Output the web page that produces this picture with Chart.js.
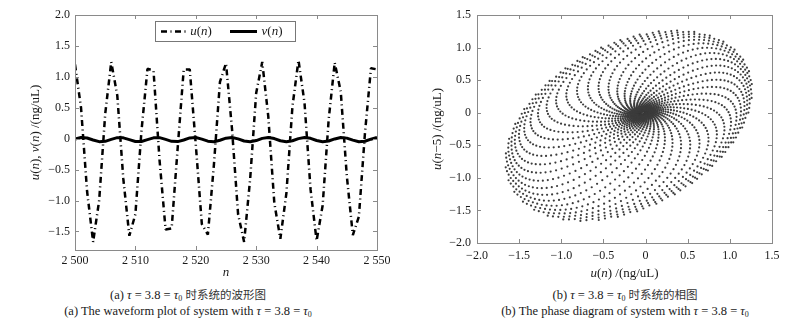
<!DOCTYPE html>
<html>
<head>
<meta charset="utf-8">
<script src="https://cdn.jsdelivr.net/npm/chart.js@4.4.0/dist/chart.umd.min.js"></script>
<style>
  body { margin: 0; background: #fff; }
  #wrap { position: relative; width: 799px; height: 325px; overflow: hidden; }
  canvas { position: absolute; top: 0; }
  .cap {
    position: absolute; width: 400px; text-align: center; color: #1a1a1a;
    font: 12.5px 'Liberation Serif', 'Noto Sans CJK SC', serif; white-space: nowrap;
  }
  .cap i { font-style: italic; }
  .cap sub { font-size: 8px; vertical-align: -2px; }
  .zh { font-family: 'Noto Sans CJK SC', sans-serif; font-size: 11.5px; color: #333; }
</style>
</head>
<body>
<div id="wrap">
  <canvas id="wave" width="400" height="285" style="left:0"></canvas>
  <canvas id="phase" width="399" height="285" style="left:400px"></canvas>
  <div class="cap" style="left:-12px; top:286px">(a) <i>τ</i> = 3.8 = <i>τ</i><sub>0</sub> <span class="zh">时系统的波形图</span></div>
  <div class="cap" style="left:-12px; top:304px">(a) The waveform plot of system with <i>τ</i> = 3.8 = <i>τ</i><sub>0</sub></div>
  <div class="cap" style="left:425px; top:286px">(b) <i>τ</i> = 3.8 = <i>τ</i><sub>0</sub> <span class="zh">时系统的相图</span></div>
  <div class="cap" style="left:425px; top:304px">(b) The phase diagram of system with <i>τ</i> = 3.8 = <i>τ</i><sub>0</sub></div>
</div>
<script>
// waveform, n = 2500 ... 2550
const nStart = 2500;
const uValues = [1.20, 0.50, -0.85, -1.67, -1.00, 0.40, 1.24, 0.70, -0.65, -1.57,
  -1.22, 0.12, 1.13, 1.10, -0.35, -1.47, -1.45, -0.15, 1.12, 1.12,
  -0.10, -1.38, -1.55, -0.42, 0.92, 1.22, 0.15, -1.22, -1.67, -0.65,
  0.74, 1.24, 0.36, -1.04, -1.62, -0.88, 0.52, 1.27, 0.58, -0.82,
  -1.65, -1.08, 0.31, 1.23, 0.76, -0.60, -1.56, -1.26, 0.08, 1.14, 1.12];
const vValues = [-0.007, 0.018, 0.011, -0.021, -0.048, -0.043, -0.011, 0.017, 0.014, -0.016,
  -0.046, -0.045, -0.016, 0.014, 0.017, -0.012, -0.043, -0.047, -0.021, 0.012,
  0.018, -0.007, -0.040, -0.049, -0.025, 0.008, 0.019, -0.003, -0.037, -0.050,
  -0.030, 0.005, 0.020, 0.002, -0.033, -0.050, -0.034, 0.001, 0.020, 0.006,
  -0.029, -0.050, -0.037, -0.004, 0.019, 0.009, -0.024, -0.049, -0.041, -0.008, 0.018];

const waveXTicks = [2500, 2510, 2520, 2530, 2540, 2550];
const waveXLabels = ['2 500', '2 510', '2 520', '2 530', '2 540', '2 550'];
const waveYTicks = [-1.5, -1.0, -0.5, 0, 0.5, 1.0, 1.5, 2.0];
const waveYLabels = ['\u22121.5', '\u22121.0', '\u22120.5', '0', '0.5', '1.0', '1.5', '2.0'];

// phase portrait u(n) vs u(n-5): the transient leaves the fixed point in rings
// that widen towards the limit cycle; dots of successive rings line up into arms
const phaseRings = [0.020, 0.023, 0.026, 0.029, 0.033, 0.037, 0.042, 0.047, 0.053, 0.060,
  0.067, 0.075, 0.084, 0.094, 0.105, 0.118, 0.132, 0.147, 0.164, 0.183,
  0.204, 0.227, 0.252, 0.279, 0.308, 0.339, 0.372, 0.406, 0.441, 0.477,
  0.513, 0.549, 0.585, 0.620, 0.654, 0.687, 0.718, 0.747, 0.774, 0.799,
  0.822, 0.843, 0.862, 0.879, 0.894, 0.908, 0.920, 0.931, 0.941, 0.950,
  0.958, 0.967, 0.976, 0.984, 0.991, 0.997];
// arm rotation per ring, degrees (clockwise going outwards)
const phaseTwist = [0, -3, -6, -9, -12, -15, -18, -21, -24, -27,
  -30, -33, -36, -39, -42, -45, -48, -51, -54, -57,
  -60, -63, -66, -69, -72, -75, -78, -81, -84, -87,
  -90, -93, -96, -99, -102, -105, -108, -111, -114, -117,
  -120, -123, -126, -129, -132, -135, -138, -141, -144, -147,
  -150, -153, -156, -159, -162, -165];
const armCount = 40;
const fixedPoint = [-0.03, 0.0];
const cycleCentre = [-0.2, -0.2];
const cycleAxes = [1.72, 1.16];

const phaseTicks = [-2.0, -1.5, -1.0, -0.5, 0, 0.5, 1.0, 1.5];
const phaseLabels = ['\u22122.0', '\u22121.5', '\u22121.0', '\u22120.5', '0', '0.5', '1.0', '1.5'];

const waveYTitle = [['u', 1], ['(', 0], ['n', 1], ['), ', 0], ['v', 1], ['(', 0], ['n', 1], [') /(ng/uL)', 0]];
const waveXTitle = [['n', 1]];
const phaseYTitle = [['u', 1], ['(', 0], ['n', 1], ['\u22125) /(ng/uL)', 0]];
const phaseXTitle = [['u', 1], ['(', 0], ['n', 1], [') /(ng/uL)', 0]];

const serif = "'Liberation Serif', 'Times New Roman', serif";
const ink = '#1a1a1a';
const frameColor = '#8a8a8a';

// mixed upright / italic text centred on (x, y)
function richText(ctx, parts, x, y, size, rotate) {
  ctx.save();
  ctx.translate(x, y);
  if (rotate) ctx.rotate(-Math.PI / 2);
  ctx.textBaseline = 'middle';
  ctx.fillStyle = ink;
  const fontOf = it => (it ? 'italic ' : '') + size + 'px ' + serif;
  let total = 0;
  parts.forEach(p => { ctx.font = fontOf(p[1]); total += ctx.measureText(p[0]).width; });
  let cx = -total / 2;
  parts.forEach(p => {
    ctx.font = fontOf(p[1]);
    ctx.fillText(p[0], cx, 0);
    cx += ctx.measureText(p[0]).width;
  });
  ctx.restore();
}

// box round the plot with short inward ticks on all four sides, plus axis titles
function framePlugin(xTitle, yTitle, yTitleX, xTitleY) {
  return {
    id: 'frame',
    afterDatasetsDraw(chart) {
      const { ctx, chartArea: a, scales } = chart;
      const len = 4;
      ctx.save();
      ctx.strokeStyle = frameColor;
      ctx.lineWidth = 1;
      ctx.setLineDash([]);
      ctx.beginPath();
      scales.x.ticks.forEach(t => {
        const px = Math.round(scales.x.getPixelForValue(t.value)) + 0.5;
        ctx.moveTo(px, a.bottom); ctx.lineTo(px, a.bottom - len);
        ctx.moveTo(px, a.top); ctx.lineTo(px, a.top + len);
      });
      scales.y.ticks.forEach(t => {
        const py = Math.round(scales.y.getPixelForValue(t.value)) + 0.5;
        ctx.moveTo(a.left, py); ctx.lineTo(a.left + len, py);
        ctx.moveTo(a.right, py); ctx.lineTo(a.right - len, py);
      });
      ctx.stroke();
      ctx.strokeRect(a.left + 0.5, a.top + 0.5, a.right - a.left, a.bottom - a.top);
      ctx.restore();
      richText(ctx, xTitle, (a.left + a.right) / 2, xTitleY, 13, false);
      richText(ctx, yTitle, yTitleX, (a.top + a.bottom) / 2, 13, true);
    }
  };
}

// legend box with the line samples
const legendPlugin = {
  id: 'waveLegend',
  afterDraw(chart) {
    const ctx = chart.ctx;
    const sets = chart.data.datasets;
    ctx.save();
    ctx.fillStyle = '#fff';
    ctx.fillRect(155, 21, 140, 20);
    ctx.strokeStyle = '#777';
    ctx.lineWidth = 1;
    ctx.strokeRect(155.5, 21.5, 140, 20);
    const y = 31.5;
    ctx.strokeStyle = '#000';
    ctx.lineWidth = sets[0].borderWidth;
    ctx.setLineDash(sets[0].borderDash);
    ctx.beginPath(); ctx.moveTo(161, y); ctx.lineTo(186, y); ctx.stroke();
    ctx.lineWidth = sets[1].borderWidth;
    ctx.setLineDash([]);
    ctx.beginPath(); ctx.moveTo(230, y); ctx.lineTo(257, y); ctx.stroke();
    ctx.restore();
    richText(ctx, [['u', 1], ['(', 0], ['n', 1], [')', 0]], 201, y, 13, false);
    richText(ctx, [['v', 1], ['(', 0], ['n', 1], [')', 0]], 272, y, 13, false);
  }
};

function tickFont() {
  return { family: serif, size: 12 };
}

const wavePoints = vals => vals.map((v, i) => ({ x: nStart + i, y: v }));

new Chart(document.getElementById('wave'), {
  type: 'line',
  data: {
    datasets: [
      { label: 'u(n)', data: wavePoints(uValues), borderColor: '#000', borderWidth: 2.5,
        borderDash: [6, 3.5, 1, 3.5], borderJoinStyle: 'bevel', pointRadius: 0, tension: 0 },
      { label: 'v(n)', data: wavePoints(vValues), borderColor: '#000', borderWidth: 3,
        borderJoinStyle: 'round', pointRadius: 0, tension: 0 }
    ]
  },
  options: {
    responsive: false,
    animation: false,
    layout: { padding: { top: 15, right: 23, left: 0, bottom: 0 } },
    plugins: { legend: { display: false }, tooltip: { enabled: false } },
    scales: {
      x: {
        type: 'linear', min: 2500, max: 2550,
        afterBuildTicks: s => { s.ticks = waveXTicks.map(v => ({ value: v })); },
        afterFit: s => { s.height = 35; },
        grid: { display: false, drawTicks: false }, border: { display: false },
        ticks: { font: tickFont(), color: ink, padding: 4, maxRotation: 0,
          callback: (v, i) => waveXLabels[i] }
      },
      y: {
        min: -1.8, max: 2.0,
        afterBuildTicks: s => { s.ticks = waveYTicks.map(v => ({ value: v })); },
        afterFit: s => { s.width = 75; },
        grid: { display: false, drawTicks: false }, border: { display: false },
        ticks: { font: tickFont(), color: ink, padding: 5,
          callback: (v, i) => waveYLabels[i] }
      }
    }
  },
  plugins: [framePlugin(waveXTitle, waveYTitle, 36, 273), legendPlugin]
});

// lay the rings out on ellipses that drift from the fixed point to the cycle centre
const phasePoints = [];
phaseRings.forEach((s, i) => {
  const cx = fixedPoint[0] + (cycleCentre[0] - fixedPoint[0]) * s;
  const cy = fixedPoint[1] + (cycleCentre[1] - fixedPoint[1]) * s;
  const tilt = (20 + 25 * s) * Math.PI / 180;
  for (let j = 0; j < armCount; j++) {
    const th = 2 * Math.PI * j / armCount + phaseTwist[i] * Math.PI / 180;
    const ex = cycleAxes[0] * s * Math.cos(th);
    const ey = cycleAxes[1] * s * Math.sin(th);
    phasePoints.push({
      x: cx + ex * Math.cos(tilt) - ey * Math.sin(tilt),
      y: cy + ex * Math.sin(tilt) + ey * Math.cos(tilt)
    });
  }
});

new Chart(document.getElementById('phase'), {
  type: 'scatter',
  data: {
    datasets: [{ label: 'u(n-5)', data: phasePoints, pointRadius: 1.1, borderWidth: 0,
      pointBackgroundColor: '#3c3c3c', pointBorderWidth: 0 }]
  },
  options: {
    responsive: false,
    animation: false,
    layout: { padding: { top: 15, right: 27, left: 0, bottom: 0 } },
    plugins: { legend: { display: false }, tooltip: { enabled: false } },
    scales: {
      x: {
        type: 'linear', min: -2.0, max: 1.5,
        afterBuildTicks: s => { s.ticks = phaseTicks.map(v => ({ value: v })); },
        afterFit: s => { s.height = 42; },
        grid: { display: false, drawTicks: false }, border: { display: false },
        ticks: { font: tickFont(), color: ink, padding: 6, maxRotation: 0,
          callback: (v, i) => phaseLabels[i] }
      },
      y: {
        min: -2.0, max: 1.5,
        afterBuildTicks: s => { s.ticks = phaseTicks.map(v => ({ value: v })); },
        afterFit: s => { s.width = 77; },
        grid: { display: false, drawTicks: false }, border: { display: false },
        ticks: { font: tickFont(), color: ink, padding: 6,
          callback: (v, i) => phaseLabels[i] }
      }
    }
  },
  plugins: [framePlugin(phaseXTitle, phaseYTitle, 38, 274)]
});
</script>
</body>
</html>
